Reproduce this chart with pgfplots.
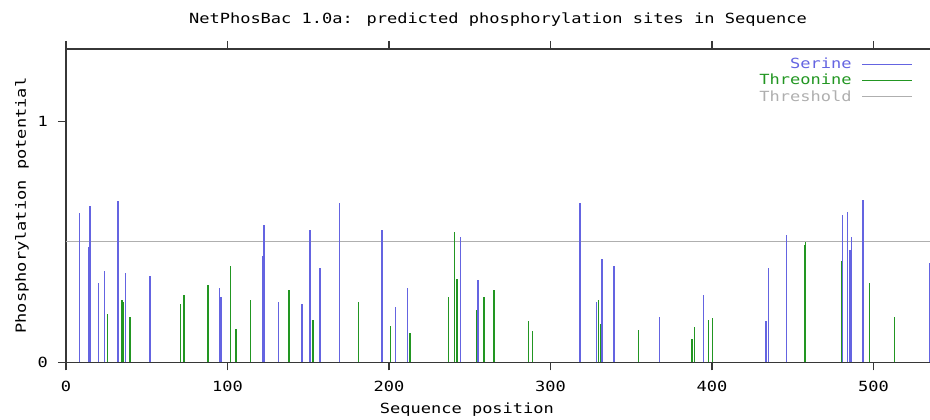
\documentclass[border=0pt]{standalone}
\usepackage{fontspec}
\setmainfont{DejaVu Sans Mono}[FakeStretch=1.215]
\usepackage{pgfplots}
\pgfplotsset{compat=1.18}
\definecolor{ser}{RGB}{100,100,225}
\definecolor{thr}{RGB}{34,150,34}
\definecolor{thres}{RGB}{175,175,175}
\definecolor{axc}{RGB}{55,55,55}
\newcommand{\gfont}{\fontsize{14}{16}\selectfont}
\begin{document}
\begin{tikzpicture}
\path[use as bounding box] (-66pt,-57.7pt) rectangle (864pt,362.3pt);
\begin{axis}[
  scale only axis, width=864pt, height=313.3pt,
  xmin=0, xmax=535, ymin=0, ymax=1.3,
  axis x line=box, axis y line=left,
  axis line style={-, axc, line width=1.4pt},
  x axis line style={-}, y axis line style={-},
  tick align=outside, major tick length=8pt,
  tick style={axc, line width=1.2pt},
  xtick={0,100,200,300,400,500}, ytick={0,1},
  minor tick num=0,
  /pgf/number format/assume math mode=true,
  ticklabel style={font=\gfont},
  xticklabel style={anchor=center, yshift=-16.6pt},
  yticklabel style={anchor=center, xshift=-15.3pt},
  title={NetPhosBac 1.0a: predicted phosphorylation sites in Sequence},
  title style={at={(axis description cs:0.5,1.076)}, anchor=center, font=\gfont, text=black},
  xlabel={Sequence position},
  xlabel style={at={(axis description cs:0.464,-0.152)}, anchor=center, font=\gfont},
  ylabel={Phosphorylation potential},
  ylabel style={at={(axis description cs:-0.051,0.5)}, anchor=center, font=\gfont},
  legend plot pos=right,
  legend cell align=right,
  legend style={at={(axis description cs:0.980,0.978)}, anchor=north east,
    draw=none, fill=none, font=\gfont, row sep=0pt, inner sep=0pt,
    /tikz/every odd column/.style={column sep=8pt}},
  legend image code/.code={\draw[#1] (0pt,0pt) -- (50pt,0pt);},
]
\addlegendimage{ser, line width=1pt}
\addlegendentry{\textcolor{ser}{Serine}}
\addlegendimage{thr, line width=1pt}
\addlegendentry{\textcolor{thr}{Threonine}}
\addlegendimage{thres, line width=1pt}
\addlegendentry{\textcolor{thres}{Threshold}}

\addplot[thres, line width=1.1pt, forget plot] coordinates {(0,0.5) (535,0.5)};

\addplot[ser, ycomb, line width=1.3pt, forget plot] coordinates {
(8.2,0.62) (14.2,0.48) (14.9,0.65) (20.2,0.33) (24,0.38) (32.2,0.67)
(36.7,0.37) (52,0.36) (95.2,0.31) (96,0.27) (121.8,0.44) (122.6,0.57)
(131.7,0.25) (146.2,0.24) (151.1,0.55) (157.3,0.39) (169.3,0.66)
(195.7,0.55) (204,0.23) (211.4,0.31) (244.2,0.52) (255.2,0.34)
(318.3,0.66) (328.4,0.25) (331.9,0.43) (339.4,0.40) (367.7,0.19)
(394.9,0.28) (433.5,0.17) (435.2,0.39) (446.3,0.53) (481,0.61)
(483.9,0.625) (485.5,0.465) (486.5,0.52) (493.6,0.675) (534.5,0.41)
};

\addplot[thr, ycomb, line width=1.3pt, forget plot] coordinates {
(25.6,0.20) (34.7,0.26) (35.5,0.25) (39.6,0.19) (71,0.24) (73.1,0.28)
(87.9,0.32) (101.8,0.40) (105.3,0.14) (114.4,0.26) (138.1,0.30)
(153,0.175) (181,0.25) (201.1,0.15) (213,0.12) (237,0.27) (240.7,0.54)
(242.1,0.345) (254.1,0.215) (258.9,0.27) (265.1,0.30) (286.3,0.17)
(288.8,0.13) (329.9,0.26) (330.9,0.16) (354.7,0.135) (387.7,0.095)
(389.3,0.145) (397.8,0.175) (400.5,0.185) (457.2,0.485) (458.1,0.50)
(480.4,0.42) (497.5,0.33) (513,0.19)
};
\end{axis}
\end{tikzpicture}
\end{document}
